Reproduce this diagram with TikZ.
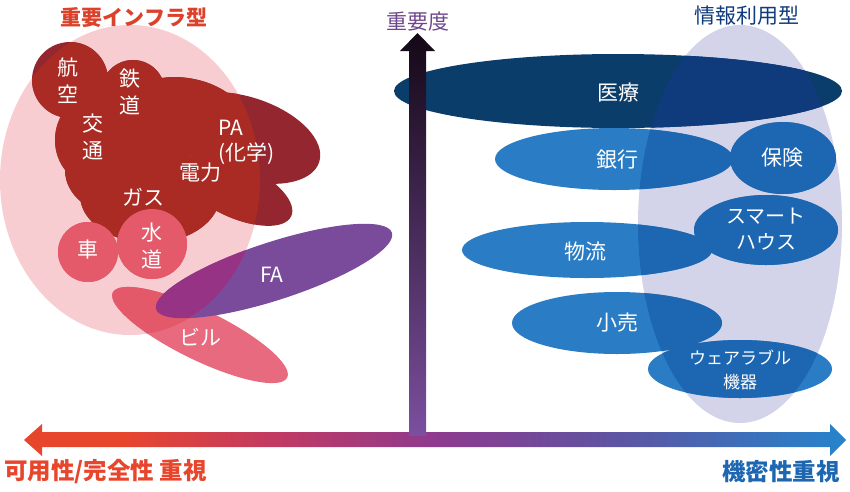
\documentclass[tikz,border=0pt]{standalone}
\usepackage{fontspec}
\setmainfont{Noto Sans CJK JP}
\usepackage{tikz}

\definecolor{infrapink}{HTML}{F8CDD1}
\definecolor{infraout}{HTML}{93262E}
\definecolor{infrain}{HTML}{A92B23}
\definecolor{waterred}{HTML}{E55A6B}
\definecolor{bldgout}{HTML}{E86A7E}
\definecolor{bldgin}{HTML}{E4596A}
\definecolor{faout}{HTML}{7A4A9B}
\definecolor{fain}{HTML}{973384}
\definecolor{infolav}{HTML}{D3D3EA}
\definecolor{medout}{HTML}{0B3D6B}
\definecolor{medin}{HTML}{0F3A7B}
\definecolor{bizout}{HTML}{2A7DC5}
\definecolor{bizin}{HTML}{1D66B2}
\definecolor{axisred}{HTML}{E8452D}
\definecolor{axisrose}{HTML}{C23A62}
\definecolor{axismid}{HTML}{8E3A8E}
\definecolor{axisviolet}{HTML}{5E54A2}
\definecolor{axisblue}{HTML}{2584CC}
\definecolor{axisdark}{HTML}{140816}
\definecolor{axispurple}{HTML}{7B4F9E}

% only 25bp..75bp of the shading covers the path
\pgfdeclarehorizontalshading{axisshade}{100bp}{color(0bp)=(axisred); color(31bp)=(axisred);
  color(40bp)=(axisrose); color(50bp)=(axismid); color(61bp)=(axisviolet); color(75bp)=(axisblue);
  color(100bp)=(axisblue)}

% shapes of the two groups, pixel coordinates
\newcommand{\infrashape}{(70,80) circle[radius=38] (133,92) circle[radius=32]
  (95,140) circle[x radius=40, y radius=45] (185,116) circle[x radius=62, y radius=38, rotate=-10]
  (245,138) circle[x radius=78, y radius=41, rotate=-18] (235,190) circle[x radius=62, y radius=27, rotate=-25]
  (150,195) circle[x radius=70, y radius=48] (120,170) circle[x radius=55, y radius=45]}
\newcommand{\watershape}{(88,252) circle[radius=30] (152,244) circle[radius=35]}
\newcommand{\bldgshape}{(200,335) circle[x radius=97, y radius=25, rotate=-26]}
\newcommand{\fashape}{(274,271) circle[x radius=124, y radius=29, rotate=18]}
\newcommand{\medshape}{(618,91) circle[x radius=224, y radius=37]}
\newcommand{\bizshape}{(614,159) circle[x radius=119, y radius=31] (783,158) circle[x radius=53, y radius=36]
  (766,230) circle[x radius=72, y radius=35] (587,250) circle[x radius=125, y radius=28]
  (617,323) circle[x radius=105, y radius=31] (740,369) circle[x radius=92, y radius=29]}

\begin{document}
\begin{tikzpicture}[x=1pt, y=-1pt,
  lbl/.style={text=white, font=\fontsize{21}{27}\selectfont, align=center, inner sep=0pt},
  heading/.style={font=\fontsize{21}{24}\selectfont\bfseries, inner sep=0pt}]
  \useasboundingbox (0,0) rectangle (850,491);

  % left group
  \fill[infrapink] (130,180) circle[x radius=130, y radius=155];
  \fill[infraout] \infrashape;
  \fill[waterred] \watershape;
  \fill[bldgout] \bldgshape;
  \fill[faout] \fashape;
  \begin{scope}
    \clip (130,180) circle[x radius=130, y radius=155];
    \fill[infrain] \infrashape;
    \fill[waterred] \watershape;
    \fill[bldgin] \bldgshape;
    \fill[fain] \fashape;
  \end{scope}

  % right group
  \fill[infolav] (740,224) circle[x radius=102, y radius=199];
  \fill[medout] \medshape;
  \fill[bizout] \bizshape;
  \begin{scope}
    \clip (740,224) circle[x radius=102, y radius=199];
    \fill[medin] \medshape;
    \fill[bizin] \bizshape;
  \end{scope}

  % axes
  \shade[shading=axisshade]
    (24,440) -- (42,424) -- (42,432) -- (830,432) -- (830,424) -- (846,440)
    -- (830,456) -- (830,447) -- (42,447) -- (42,456) -- cycle;
  \shade[top color=axisdark, middle color=axispurple!85!black, bottom color=axispurple]
    (417.5,33) -- (435,51) -- (426,51) -- (426,436) -- (409,436) -- (409,51) -- (400,51) -- cycle;

  \node[heading, text=axisred!95!black] (infra) at (134,18) {重要インフラ型};
  \node[heading, text=axispurple!90!black, font=\fontsize{21}{24}\selectfont] (prio) at (418,22) {重要度};
  \node[heading, text=medin, font=\fontsize{21}{24}\selectfont] (info) at (747,16) {情報利用型};
  \node[heading, text=axisred, anchor=west, font=\fontsize{23.5}{26}\selectfont\bfseries] (avail) at (4,472) {可用性/完全性 重視};
  \node[heading, text=bizin, anchor=east, font=\fontsize{23.5}{26}\selectfont\bfseries] (secret) at (840,472) {機密性重視};

  \node[lbl] (air) at (68,81) {航\\空};
  \node[lbl] (rail) at (130,92) {鉄\\道};
  \node[lbl] (traffic) at (93,137) {交\\通};
  \node[lbl, align=left, anchor=west, font=\fontsize{21}{25}\selectfont] (pa) at (218,142) {PA\\(化学)};
  \node[lbl] (power) at (200,173) {電力};
  \node[lbl] (gas) at (143,197) {ガス};
  \node[lbl] (car) at (88,250) {車};
  \node[lbl] (water) at (152,246) {水\\道};
  \node[lbl] (fa) at (272,275) {FA};
  \node[lbl] (bldg) at (200,337) {ビル};

  \node[lbl] (med) at (618,93) {医療};
  \node[lbl] (bank) at (617,160) {銀行};
  \node[lbl] (insur) at (782,158) {保険};
  \node[lbl, font=\fontsize{20}{26}\selectfont] (house) at (766,229) {スマート\\ハウス};
  \node[lbl] (logi) at (585,252) {物流};
  \node[lbl] (retail) at (617,323) {小売};
  \node[lbl, font=\fontsize{17}{24}\selectfont] (wear) at (740,370) {ウェアラブル\\機器};
\end{tikzpicture}
\end{document}
